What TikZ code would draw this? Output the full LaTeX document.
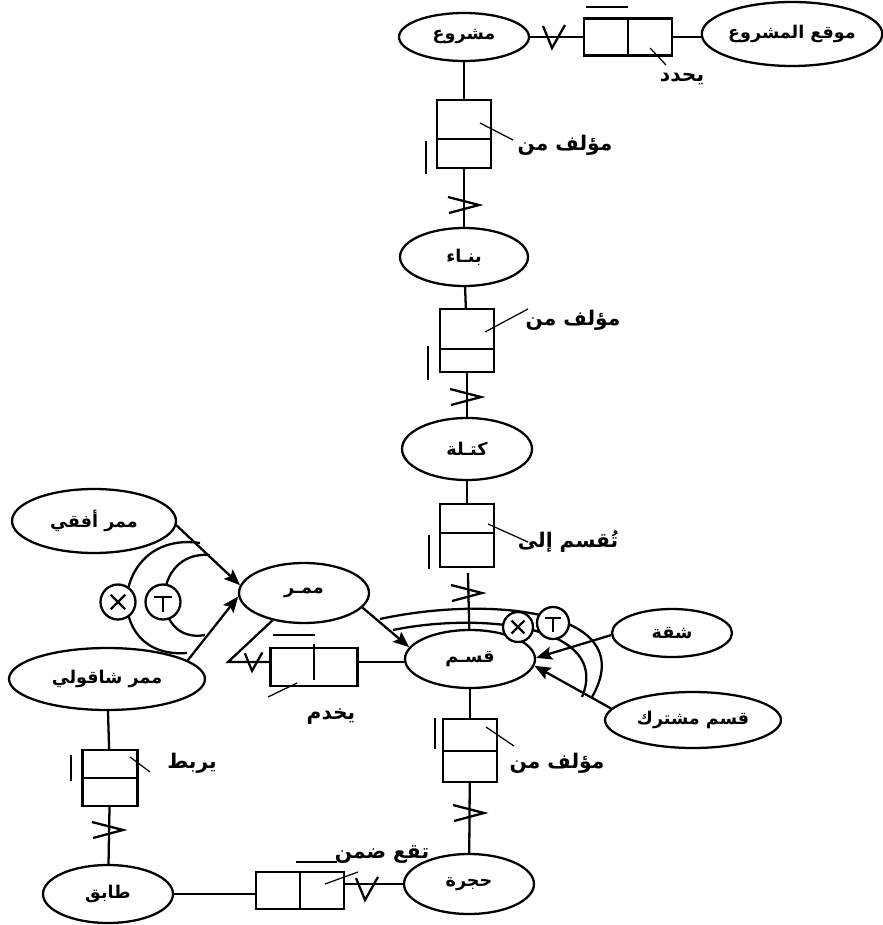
\documentclass[tikz,border=0pt]{standalone}
\usepackage{fontspec}
\usepackage{tikz}
\usetikzlibrary{arrows.meta, positioning, shapes.geometric}
\newfontfamily\arabicfont[Script=Arabic]{DejaVu Sans}
\TeXXeTstate=1
\newcommand{\artxt}[1]{{\arabicfont\bfseries\beginR #1\endR}}

\begin{document}
\begin{tikzpicture}[
  x=0.02cm, y=-0.02cm,
  link/.style={line width=1.3pt},
  entity/.style={ellipse, draw, line width=1.3pt, inner sep=0pt, font=\fontsize{10}{12}\selectfont},
  relbox/.style={draw, line width=1.3pt, minimum width=1.08cm, inner sep=0pt},
  hrelbox/.style={draw, line width=1.3pt, minimum height=0.74cm, minimum width=1.76cm, inner sep=0pt},
  rellabel/.style={font=\fontsize{11.5}{13}\selectfont, inner sep=0pt},
  lead/.style={line width=0.7pt},
  isa/.style={line width=1.3pt, -{Stealth[length=3.2mm, width=2.6mm, inset=0.6mm]}},
  opcirc/.style={circle, draw, line width=1.3pt, fill=white, inner sep=0pt},
  crowfoot/.pic={\draw[link] (-16,-8) -- (15,0) -- (-15,8);},
  crowdown/.pic={\draw[link] (-9,-11) -- (0,11) -- (13,-12);}
]
\useasboundingbox (0,0) rectangle (882,925);

% Entities
\node[entity, minimum width=2.6cm, minimum height=0.96cm] (proj) at (464,37) {\artxt{مشروع}};
\node[entity, minimum width=3.56cm, minimum height=1.28cm] (site) at (792,34) {\artxt{موقع المشروع}};
\node[entity, minimum width=2.56cm, minimum height=1.16cm] (bldg) at (464,257) {\artxt{بنـاء}};
\node[entity, minimum width=2.6cm, minimum height=1.24cm] (block) at (467,449) {\artxt{كتـلة}};
\node[entity, minimum width=2.6cm, minimum height=1.16cm] (sect) at (470,659) {\artxt{قسـم}};
\node[entity, minimum width=2.6cm, minimum height=1.2cm] (corr) at (304,593) {\artxt{ممـر}};
\node[entity, minimum width=3.28cm, minimum height=1.28cm] (hcorr) at (94,521) {\artxt{ممر أفقي}};
\node[entity, minimum width=3.92cm, minimum height=1.24cm] (vcorr) at (107,679) {\artxt{ممر شاقولي}};
\node[entity, minimum width=2.6cm, minimum height=1.16cm] (floor) at (108,894) {\artxt{طابق}};
\node[entity, minimum width=2.6cm, minimum height=1.2cm] (room) at (469,884) {\artxt{حجرة}};
\node[entity, minimum width=2.4cm, minimum height=0.96cm] (flat) at (672,633) {\artxt{شقة}};
\node[entity, minimum width=3.52cm, minimum height=1.12cm] (shsect) at (693,720) {\artxt{قسم مشترك}};

% Relationship boxes
\node[relbox, minimum height=1.36cm] (box1) at (464,134) {};
\node[relbox, minimum height=1.26cm] (box2) at (467,340.5) {};
\node[relbox, minimum height=1.26cm] (box3) at (467,535.5) {};
\node[relbox, minimum height=1.26cm] (box4) at (470,750.5) {};
\node[relbox, minimum height=1.12cm, minimum width=1.1cm] (box5) at (110,778) {};
\node[hrelbox] (box6) at (628,37) {};
\node[hrelbox, minimum width=1.74cm, minimum height=0.76cm] (box7) at (314,667) {};
\node[hrelbox] (box8) at (300,890.5) {};

\draw[link] (box1.west |- 0,139) -- (box1.east |- 0,139);
\draw[link] (box2.west |- 0,349) -- (box2.east |- 0,349);
\draw[link] (box3.west |- 0,533) -- (box3.east |- 0,533);
\draw[link] (box4.west |- 0,751) -- (box4.east |- 0,751);
\draw[link] (box5.west) -- (box5.east);
\draw[link] (box6.north) -- (box6.south);
\draw[link] (box7.center |- 0,644) -- (box7.center |- 0,680);
\draw[link] (box8.north) -- (box8.south);

% Cardinality bars
\draw[link] (426,141) -- (426,174);
\draw[link] (428,346) -- (428,380);
\draw[link] (429,535) -- (429,569);
\draw[link] (435,718) -- (435,749);
\draw[link] (71,755) -- (71,781);
\draw[link] (586,7) -- (628,7);
\draw[link] (273,635) -- (315,635);
\draw[link] (296,862) -- (337,862);

% Connectors
\coordinate (bend7) at (228,662);
\draw[link] (proj) -- (box6);
\draw[link] (box6.east) -- (box6.east -| site.west);
\draw[link] (proj) -- (box1);
\draw[link] (box1) -- (bldg);
\draw[link] (bldg) -- (box2);
\draw[link] (box2) -- (block);
\draw[link] (block) -- (box3);
\draw[link, shorten <=0.1cm] (box3) -- (sect);
\draw[link] (sect) -- (box4);
\draw[link] (box4) -- (room);
\draw[link] (vcorr) -- (box5);
\draw[link] (box5) -- (floor);
\draw[link] (floor.east) -- (floor.east -| box8.west);
\draw[link] (room.west -| box8.east) -- (room.west);
\draw[link] (corr.221) -- (bend7) -- (bend7 -| box7.west);
\draw[link] (bend7 -| box7.east) -- (bend7 -| sect.west);

% Crow's feet
\pic at (464,205) {crowfoot};
\pic at (466,397) {crowfoot};
\pic at (467,593) {crowfoot};
\pic at (469,813) {crowfoot};
\pic at (108,830) {crowfoot};
\pic at (552,37) {crowdown};
\pic[scale=0.8] at (252,662) {crowdown};
\pic at (365,889) {crowdown};

% Subtype arcs
\draw[link] (200,543) .. controls (110,530) and (100,660) .. (187,653);
\draw[link] (210,555) .. controls (150,550) and (150,645) .. (205,635);
\draw[link] (380,619) .. controls (490,595) and (642,610) .. (592,697);
\draw[link] (393,630) .. controls (480,612) and (612,625) .. (582,697);
\node[opcirc, minimum size=0.7cm] (xl) at (118,602) {};
\node[opcirc, minimum size=0.7cm] (tl) at (163,602) {};
\node[opcirc, minimum size=0.6cm] (xr) at (518,627) {};
\node[opcirc, minimum size=0.64cm] (tr) at (553,623) {};
\draw[link, shorten <=0.17cm, shorten >=0.17cm] (xl.135) -- (xl.-45);
\draw[link, shorten <=0.17cm, shorten >=0.17cm] (xl.45) -- (xl.-135);
\draw[link, shorten <=0.14cm, shorten >=0.14cm] (xr.135) -- (xr.-45);
\draw[link, shorten <=0.14cm, shorten >=0.14cm] (xr.45) -- (xr.-135);
\draw[link] ([shift={(-9,-5)}]tl.center) -- ++(18,0) ([shift={(0,-5)}]tl.center) -- ++(0,15);
\draw[link] ([shift={(-8,-5)}]tr.center) -- ++(16,0) ([shift={(0,-5)}]tr.center) -- ++(0,14);

% Subtype arrows
\draw[isa] (hcorr.-3) -- (corr.173);
\draw[isa] (vcorr.13) -- (corr.183);
\draw[isa] (corr.-14) -- (sect.169);
\draw[isa] (flat.182) -- (sect.1);
\draw[isa] (shsect.172) -- (sect.-6);

% Labels
\node[rellabel] (lbl1) at (565,145) {\artxt{مؤلف من}};
\node[rellabel] (lbl2) at (573,320) {\artxt{مؤلف من}};
\node[rellabel] (lbl3) at (568,542) {\artxt{تُقسم إلى}};
\node[rellabel] (lbl4) at (557,763) {\artxt{مؤلف من}};
\node[rellabel] (lbl5) at (192,763) {\artxt{يربط}};
\node[rellabel] (lbl6) at (682,79) {\artxt{يحدد}};
\node[rellabel] (lbl7) at (331,717) {\artxt{يخدم}};
\node[rellabel] (lbl8) at (382,855) {\artxt{تقع ضمن}};

\draw[lead] ([shift={(16,-11)}]box1.center) -- ++(33,17);
\draw[lead] ([shift={(18,-8.5)}]box2.center) -- ++(43,-23);
\draw[lead] ([shift={(21,-11.5)}]box3.center) -- ++(40,18);
\draw[lead] ([shift={(16,-23.5)}]box4.center) -- ++(28,19);
\draw[lead] ([shift={(20,-21)}]box5.center) -- ++(20,15);
\draw[lead] ([shift={(22,11)}]box6.center) -- ++(16,17);
\draw[lead] ([shift={(-17,16)}]box7.center) -- ++(-29,14);
\draw[lead] ([shift={(25,-6.5)}]box8.center) -- ++(33,-12);

\end{tikzpicture}
\end{document}
